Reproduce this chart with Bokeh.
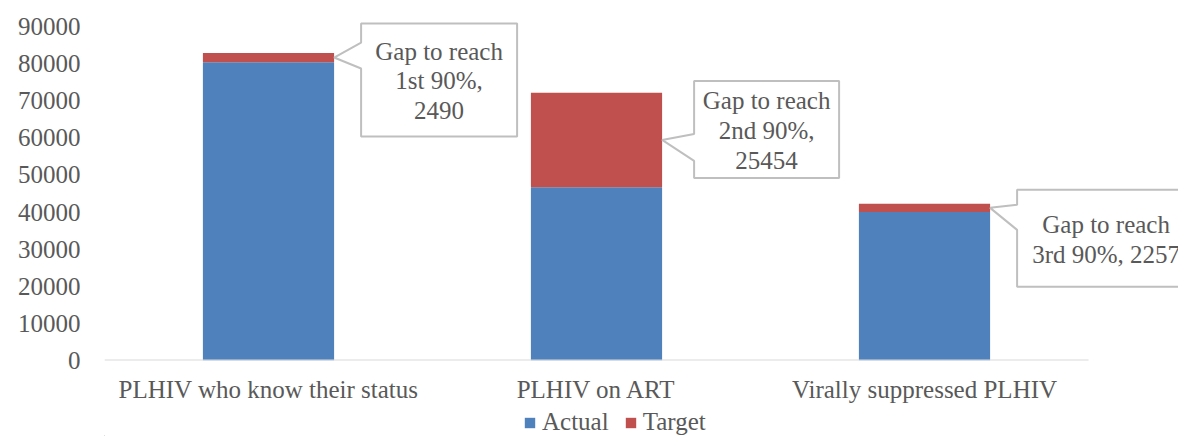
from bokeh.plotting import figure
from bokeh.models import Range1d, FixedTicker, Legend, LegendItem
from bokeh.layouts import column
from bokeh.core.properties import value
from bokeh.embed import file_html
from bokeh.resources import INLINE

# ---- data ----
categories = ["PLHIV who know their status", "PLHIV on ART", "Virally suppressed PLHIV"]
actual = [80400, 46700, 40000]
target_gap = [2490, 25454, 2257]
series_names = ["Actual", "Target"]
callout_texts = ["Gap to reach\n1st 90%,\n2490",
                 "Gap to reach\n2nd 90%,\n25454",
                 "Gap to reach\n3rd 90%, 2257"]
y_ticks = [0, 10000, 20000, 30000, 40000, 50000, 60000, 70000, 80000, 90000]

BLUE = "#4F81BD"
RED = "#C0504D"
TXT = "#595959"
FONT = "Liberation Serif"
FS = "25px"

W = 1178
H_MAIN, H_LEG = 408, 28
LEFT, TOP = 104, 0
ZERO_Y = 360                      # canvas y of value 0
BOTTOM = H_MAIN - ZERO_Y
frame_w = W - LEFT
frame_h = ZERO_Y - TOP
PX_X = 328.0                      # pixels per category
PX_Y = 334.0 / 90000              # pixels per unit
y_end = frame_h / PX_Y

x0 = -0.5
x1 = x0 + frame_w / PX_X

p = figure(width=W, height=H_MAIN, output_backend="svg", toolbar_location=None,
           x_range=Range1d(x0, x1), y_range=Range1d(0, y_end),
           min_border_left=LEFT, min_border_top=TOP, min_border_bottom=BOTTOM,
           min_border_right=0)
p.outline_line_color = None
p.xgrid.visible = False
p.ygrid.visible = False

xs = list(range(len(categories)))
bw = 0.40
p.vbar(x=xs, top=actual, bottom=0, width=bw, fill_color=BLUE, line_color=None)
tops = [a + g for a, g in zip(actual, target_gap)]
p.vbar(x=xs, top=tops, bottom=actual, width=bw, fill_color=RED, line_color=None)

# zero axis line
p.segment(x0=[-0.5], y0=[0], x1=[len(categories) - 0.5], y1=[0], line_color="#D9D9D9", line_width=2)

# axes
p.xaxis.ticker = FixedTicker(ticks=xs)
p.xaxis.major_label_overrides = {i: c for i, c in enumerate(categories)}
p.xaxis.axis_line_color = None
p.xaxis.major_tick_line_color = None
p.xaxis.minor_tick_line_color = None
p.xaxis.major_label_standoff = 9
p.xaxis.major_label_text_font = FONT
p.xaxis.major_label_text_font_size = FS
p.xaxis.major_label_text_color = TXT

p.yaxis.ticker = FixedTicker(ticks=y_ticks)
p.yaxis.formatter.use_scientific = False
p.yaxis.axis_line_color = None
p.yaxis.major_tick_line_color = None
p.yaxis.minor_tick_line_color = None
p.yaxis.major_label_standoff = 18
p.yaxis.major_label_text_font = FONT
p.yaxis.major_label_text_font_size = FS
p.yaxis.major_label_text_color = TXT

# callouts: pixel offsets relative to the tip (bar right edge, middle of gap segment)
callout_geom = [
    # box left dx, right dx, top dy, bottom dy, wedge top dy, wedge bottom dy
    (27, 183, -34, 79, -15, 11),
    (32, 177, -59, 38, -6, 21),
    (27, 205, -18, 79, -3, 22),
]
px_xs, px_ys, tx, ty = [], [], [], []
for i, (l, r, t, b, w1, w2) in enumerate(callout_geom):
    tipx = xs[i] + bw / 2
    tipy = actual[i] + target_gap[i] / 2
    def dx(d):
        return tipx + d / PX_X
    def dy(d):
        return tipy - d / PX_Y
    px_xs.append([dx(0), dx(l), dx(l), dx(r), dx(r), dx(l), dx(l)])
    px_ys.append([dy(0), dy(w2), dy(b), dy(b), dy(t), dy(t), dy(w1)])
    tx.append(dx((l + r) / 2))
    ty.append(dy((t + b) / 2 + 1))
p.patches(xs=px_xs, ys=px_ys, fill_color="white", line_color="#BFBFBF", line_width=2)
p.text(x=tx, y=ty, text=callout_texts, text_align="center", text_baseline="middle",
       text_font=value(FONT), text_font_size=FS, text_color=TXT, text_line_height=1.1)

# legend strip below
lg = figure(width=W, height=H_LEG, output_backend="svg", toolbar_location=None,
            x_range=Range1d(0, W - LEFT), y_range=Range1d(0, H_LEG),
            min_border_left=LEFT, min_border_right=0, min_border_top=0, min_border_bottom=0)
lg.axis.visible = False
lg.grid.visible = False
lg.outline_line_color = None
ra = lg.vbar(x=[-1000], top=[1], width=1, fill_color=BLUE, line_color=None)
rt = lg.vbar(x=[-1000], top=[1], width=1, fill_color=RED, line_color=None)
legend = Legend(items=[LegendItem(label=series_names[0], renderers=[ra]),
                       LegendItem(label=series_names[1], renderers=[rt])],
                location=(523 - LEFT, 0), orientation="horizontal",
                padding=0, margin=0, spacing=15, label_standoff=6,
                glyph_width=13, glyph_height=13, label_height=22,
                label_text_font=FONT, label_text_font_size=FS,
                label_text_color=TXT, border_line_color=None,
                background_fill_alpha=0)
lg.add_layout(legend, "center")

layout = column(p, lg, spacing=0)
open("out.html", "w").write(file_html(layout, INLINE))
